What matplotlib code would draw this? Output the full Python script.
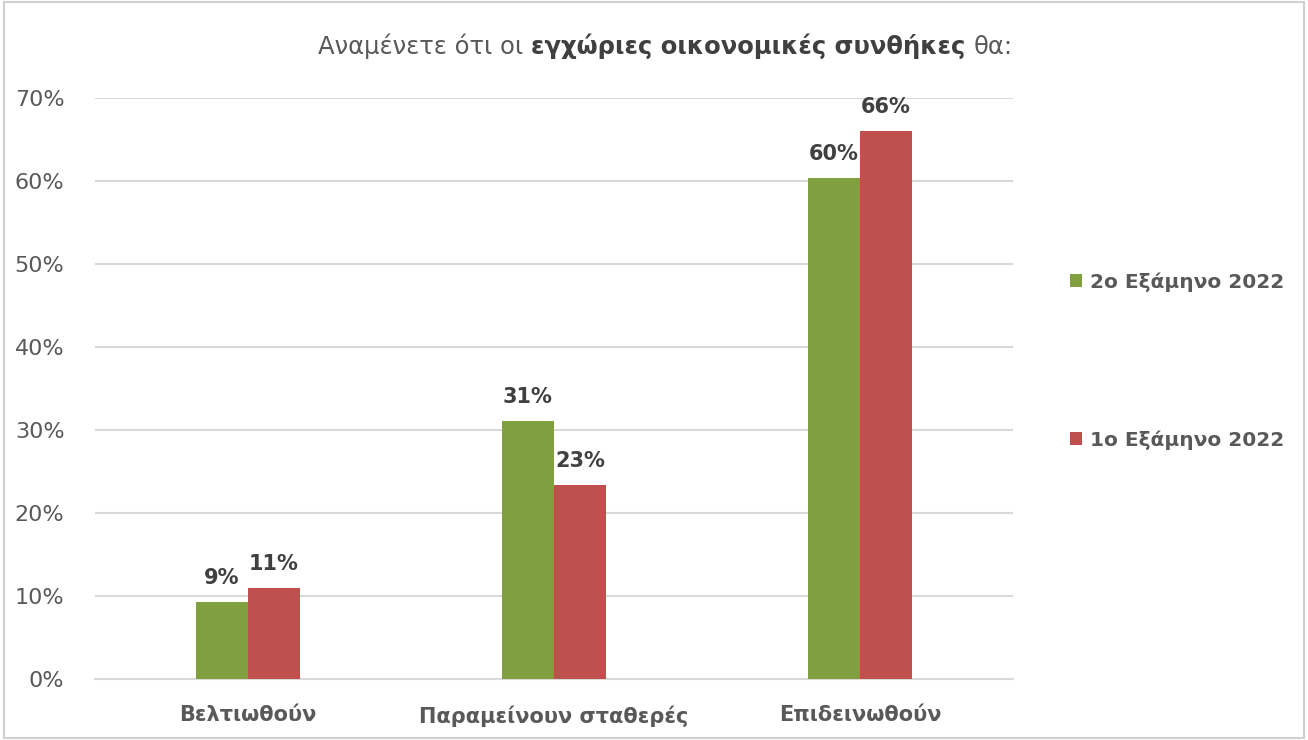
import numpy as np
import matplotlib
matplotlib.use('Agg')
import matplotlib.pyplot as plt
from matplotlib.patches import Rectangle

plt.rcParams['font.family'] = ['DejaVu Sans']

categories = ['Βελτιωθούν', 'Παραμείνουν σταθερές', 'Επιδεινωθούν']
h2_2022 = [0.093, 0.311, 0.604]
h1_2022 = [0.110, 0.234, 0.660]
labels_h2 = ['9%', '31%', '60%']
labels_h1 = ['11%', '23%', '66%']
series_names = ['2o Εξάμηνο 2022', '1o Εξάμηνο 2022']
green = '#80a040'
red = '#c0504d'
grey = '#595959'

fig = plt.figure(figsize=(13.08, 7.40), dpi=100)
ax = fig.add_axes([0.0726, 0.0824, 0.7019, 0.7852])

x = np.arange(len(categories))
w = 0.17
b1 = ax.bar(x - w/2, h2_2022, w, color=green, label=series_names[0], zorder=3)
b2 = ax.bar(x + w/2, h1_2022, w, color=red, label=series_names[1], zorder=3)

for bars, labs in ((b1, labels_h2), (b2, labels_h1)):
    for r, t in zip(bars, labs):
        ax.annotate(t, (r.get_x() + r.get_width()/2, r.get_height()),
                    xytext=(0, 10), textcoords='offset points',
                    ha='center', va='bottom', fontsize=15,
                    fontweight='bold', color='#404040')

ax.set_xlim(-0.5, 2.5)
ax.set_ylim(0, 0.70)
ax.set_yticks(np.arange(0, 0.71, 0.1))
ax.set_yticklabels([f'{int(round(v*100))}%' for v in np.arange(0, 0.71, 0.1)])
ax.set_xticks(x)
ax.set_xticklabels(categories, fontweight='bold')
ax.tick_params(axis='y', length=0, pad=22, labelsize=16, labelcolor=grey)
ax.tick_params(axis='x', length=0, pad=19, labelsize=15, labelcolor=grey)
ax.grid(axis='y', color='#d9d9d9', linewidth=1.5, zorder=0)
for s in ['top', 'right', 'left']:
    ax.spines[s].set_visible(False)
ax.spines['bottom'].set_color('#d9d9d9')
ax.spines['bottom'].set_linewidth(1.5)

# title in three pieces, right aligned to plot edge
t3 = fig.text(1013/1308, 1 - 47/740, 'θα:', ha='right', va='center',
              fontsize=17.5, color=grey)
t2 = ax.annotate('εγχώριες οικονομικές συνθήκες', xy=(0, 0), xycoords=t3,
                 xytext=(-6, 0), textcoords='offset points',
                 ha='right', va='bottom', fontsize=17.5, fontweight='bold',
                 color='#404040', annotation_clip=False)
t1 = ax.annotate('Αναμένετε ότι οι', xy=(0, 0), xycoords=t2,
                 xytext=(-6, 0), textcoords='offset points',
                 ha='right', va='bottom', fontsize=17.5, color=grey,
                 annotation_clip=False)

leg = fig.legend(handles=[b1, b2], labels=series_names,
                 loc='center left', bbox_to_anchor=(1052/1308, 1 - 361/740),
                 frameon=False, handlelength=0.6, handleheight=0.6,
                 handletextpad=0.4, labelspacing=6.9,
                 prop={'size': 14.5, 'weight': 'semibold'})
for t in leg.get_texts():
    t.set_color(grey)

fig.patches.append(Rectangle((0.003, 0.003), 0.994, 0.994, transform=fig.transFigure,
                             fill=False, edgecolor='#d0d0d0', linewidth=1.5))

fig.savefig('out.png', dpi=100)
